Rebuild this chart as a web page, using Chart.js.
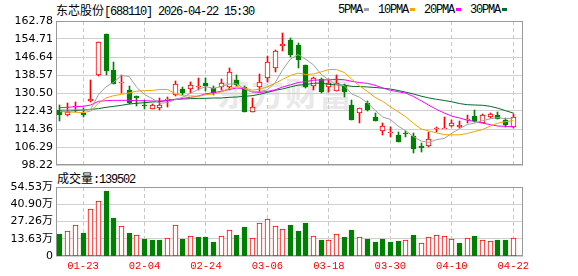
<!DOCTYPE html>
<html><head><meta charset="utf-8">
<script src="https://cdn.jsdelivr.net/npm/chart.js@4/dist/chart.umd.min.js"></script>
<style>
html,body{margin:0;padding:0;background:#fff}
body{width:578px;height:276px;overflow:hidden;position:relative}
.txt{position:absolute;white-space:nowrap;font-family:"Liberation Mono",monospace;font-size:12px;letter-spacing:-1.2px;line-height:12px;color:#000}
.cjk{font-family:"Noto Sans CJK SC",sans-serif;letter-spacing:0}
.sw{display:inline-block;width:5px;height:3px;vertical-align:top;margin:4px 9px 0 2px}
#wm{position:absolute;left:217px;top:70px;z-index:0;white-space:nowrap;font-family:"Noto Sans CJK SC",sans-serif;font-weight:700;font-size:33px;line-height:44px;color:#e9e9e9;letter-spacing:1px}
canvas{position:absolute;left:0;z-index:1}
</style></head><body>
<div id="wm"></div>
<div id="title" class="txt" style="left:56px;top:4px"></div>
<div id="legend" class="txt" style="left:338px;top:4px"></div>
<div id="vlabel" class="txt" style="left:57px;top:172px"></div>
<canvas id="c1" width="578" height="176" style="top:0"></canvas>
<canvas id="c2" width="578" height="110" style="top:166px"></canvas>
<script>
const stockName = '东芯股份';
const stockCode = '688110';
const stamp = '2026-04-22 15:30';
const lastVolume = '139502';
const watermark = '东方财富';

const dates = ['01-20','01-21','01-22','01-23','01-26','01-27','01-28','01-29','01-30','02-02','02-03','02-04','02-05','02-06','02-09','02-10','02-11','02-12','02-13','02-24','02-25','02-26','02-27','03-02','03-03','03-04','03-05','03-06','03-09','03-10','03-11','03-12','03-13','03-16','03-17','03-18','03-19','03-20','03-23','03-24','03-25','03-26','03-27','03-30','03-31','04-01','04-02','04-03','04-07','04-08','04-09','04-10','04-13','04-14','04-15','04-16','04-17','04-20','04-21','04-22'];
const tickDates = ['01-23','02-04','02-24','03-06','03-18','03-30','04-10','04-22'];
const priceTicks = [98.22,106.29,114.36,122.43,130.50,138.57,146.64,154.71,162.78];
const volTicks = [0,13.63,27.26,40.90,54.53];
const volTickLabels = ['0','13.63万','27.26万','40.90万','54.53万'];

const open = [122.88,120.49,124.07,121.68,126.76,138.42,156.95,140.81,134.83,131.84,129.15,125.27,123.33,123.92,127.36,129.45,132.29,132.14,133.04,134.98,132.89,133.04,133.04,136.18,133.34,122.13,133.34,137.07,141.56,151.57,154.26,152.02,143.05,133.64,136.78,133.04,131.40,133.64,124.97,121.68,125.87,119.89,113.46,112.72,111.52,112.50,111.37,106.74,106.74,114.21,114.66,115.85,115.11,118.24,120.19,117.20,119.89,120.49,118.39,115.40];
const high = [125.12,125.87,126.32,123.62,136.33,153.30,157.00,144.55,138.57,133.64,129.30,127.36,125.40,128.11,128.56,136.03,133.04,135.58,137.07,137.07,133.64,136.63,141.56,138.57,133.64,128.41,139.02,147.09,149.78,157.55,155.01,153.00,143.05,137.82,137.07,136.63,138.57,134.53,127.36,123.70,127.06,121.38,116.90,115.11,113.17,113.61,112.42,107.93,113.17,115.40,119.59,118.39,117.94,120.64,122.88,121.08,121.38,122.13,119.14,121.08];
const low = [118.09,120.30,122.13,119.59,126.60,138.30,138.57,134.40,130.65,125.50,124.67,123.18,123.20,122.88,124.37,129.30,129.60,130.65,131.84,131.40,129.60,131.84,131.84,133.64,122.00,122.00,131.10,135.58,140.00,149.48,146.50,141.56,132.59,131.84,130.65,131.10,131.30,128.85,118.30,116.90,122.58,118.00,111.67,110.92,108.38,110.92,103.74,104.19,106.44,112.87,114.60,115.40,114.66,116.90,117.65,116.90,119.14,118.84,115.11,114.66];
const close = [120.49,122.13,124.67,120.49,127.81,153.21,140.51,134.53,135.58,125.87,128.41,124.82,125.27,124.97,127.66,134.53,130.65,134.23,133.49,133.79,130.65,134.83,139.76,134.23,122.13,124.07,135.28,144.25,149.33,152.32,147.53,145.29,133.34,137.07,131.10,134.83,134.83,131.10,118.39,123.62,122.88,118.09,115.70,113.02,108.68,112.30,105.24,105.69,109.73,114.96,114.96,116.90,116.15,118.84,118.09,120.49,120.93,118.99,116.15,119.89];

const ma5 = [122.90,122.90,123.00,122.90,123.12,129.66,133.34,135.31,138.33,137.94,132.98,129.84,127.99,125.87,126.23,127.45,128.62,130.41,132.11,133.34,132.56,133.40,134.50,134.65,132.32,131.00,131.09,131.99,135.00,141.05,145.74,147.74,145.56,143.11,138.87,136.33,134.23,133.79,130.05,128.55,126.16,122.82,119.74,118.66,115.67,113.56,110.99,108.99,108.33,109.58,110.12,112.45,114.54,116.36,116.99,118.09,118.90,119.47,118.93,119.29];
const ma10 = [122.13,122.00,121.90,121.70,122.40,125.90,128.30,129.30,129.90,130.53,131.32,131.59,131.65,132.10,132.08,130.22,129.23,129.20,128.99,129.78,130.01,131.01,132.46,133.38,132.83,131.78,132.25,133.25,134.83,136.69,138.37,139.42,138.78,139.06,139.96,141.03,140.99,139.67,136.58,133.71,131.25,128.53,126.76,124.36,122.11,119.86,116.90,114.36,113.50,112.63,111.84,111.72,111.76,112.35,113.29,114.11,115.67,117.00,117.65,118.14];
const ma20 = [123.92,124.07,124.37,124.52,125.12,126.76,127.06,127.21,127.21,127.21,127.06,127.06,126.91,126.91,127.06,127.66,128.11,128.56,129.15,130.16,130.66,131.30,132.05,132.74,132.46,131.00,130.74,131.22,131.91,133.23,134.19,135.21,135.62,136.22,136.39,136.41,136.62,136.46,135.71,135.20,134.81,133.97,132.77,131.71,131.04,130.45,128.95,127.02,125.04,123.17,121.54,120.12,119.26,118.35,117.70,116.98,116.29,115.68,115.57,115.38];
const ma30 = [122.43,122.43,122.58,122.88,123.18,123.48,124.07,124.52,124.97,125.57,125.87,126.17,126.47,126.62,127.21,127.66,127.81,127.96,128.11,128.11,128.26,128.26,128.56,128.71,129.00,129.30,129.90,130.80,131.69,132.33,133.23,134.01,134.29,134.85,134.96,134.34,134.15,134.04,133.47,133.39,133.21,132.98,132.66,132.27,131.63,130.89,130.05,129.09,128.30,127.67,127.15,126.55,125.77,125.25,125.12,125.00,124.52,123.68,122.57,121.49];

const volume = [17.6,19.7,24.5,18.4,37.5,43.6,51.1,29.8,23.7,18.4,16.5,13.6,12.8,12.8,14.4,24.5,13.6,15.7,15.2,15.2,11.2,15.7,20.5,16.8,23.1,14.4,26.1,29.5,23.7,21.5,24.7,20.0,26.3,15.7,12.8,12.8,17.3,15.2,20.7,14.9,13.6,11.2,13.6,11.2,12.0,12.8,16.8,10.1,14.9,16.5,15.7,13.6,10.4,14.4,15.7,12.8,12.0,12.8,12.8,13.95];
const volumeUp = [0,1,1,0,1,1,0,0,1,0,1,0,0,0,1,1,0,1,0,0,0,1,1,0,0,1,1,1,1,1,0,0,0,1,0,1,1,0,0,1,0,0,0,0,0,1,0,1,1,1,1,1,0,1,0,1,1,0,0,1];

const maNames = ['5PMA','10PMA','20PMA','30PMA'];
const maColors = ['#a0a0a0','#f5a300','#ff00ff','#00692f'];
const maSeries = [ma5, ma10, ma20, ma30];

const RED = '#ff0000', GREEN = '#008000';

document.getElementById('wm').textContent = watermark;
document.getElementById('title').innerHTML = '<span class="cjk">'+stockName+'</span>['+stockCode+'] '+stamp;
document.getElementById('legend').innerHTML = maNames.map((n,i)=>n+'<span class="sw" style="background:'+maColors[i]+'"></span>').join('');
document.getElementById('vlabel').innerHTML = '<span class="cjk">成交量</span>:'+lastVolume;

const idx = dates.map((d,i)=>i);
const xMin = -0.514, xMax = 60.26;

const frame = {id:'frame', beforeDatasetsDraw(chart){
  const a = chart.chartArea, ctx = chart.ctx;
  ctx.save(); ctx.strokeStyle = '#999'; ctx.lineWidth = 1;
  ctx.strokeRect(a.left+0.5, a.top+0.5, a.right-a.left-1, a.bottom-a.top-1);
  ctx.restore();
}};
const snap = {id:'snap', afterDatasetsUpdate(chart){
  chart.data.datasets.forEach((ds,di)=>{
    const meta = chart.getDatasetMeta(di);
    if (meta.type !== 'bar') return;
    meta.data.forEach(el=>{
      el.x = Math.floor(el.x)+0.5;
      el.y = Math.round(el.y); el.base = Math.round(el.base);
      if (Math.abs(el.base-el.y) < 1) el.base = el.y+1;
    });
  });
}};

function xScale(showLabels){
  return {
    type:'linear', min:xMin, max:xMax, offset:false,
    afterBuildTicks: s => { s.ticks = tickDates.map(d=>({value:dates.indexOf(d)})); },
    afterFit: s => { s.height = showLabels ? 20 : 0; },
    ticks:{display:showLabels, autoSkip:false, maxRotation:0, padding:4, color:RED,
      font:{family:'Liberation Mono', size:10.5}, callback: v => dates[v]},
    grid:{color:'#c8c8c8', drawTicks:false, offset:false},
    border:{display:false, dash:[4,3]}
  };
}

new Chart(document.getElementById('c1'), {
  type:'bar',
  data:{datasets:[
    ...maSeries.map((s,k)=>({type:'line', label:maNames[k], data: idx.map(i=>({x:i,y:s[i]})),
      borderColor:maColors[k], borderWidth:1, pointRadius:0, tension:0, order:0})),
    {type:'bar', label:'body', data: idx.map(i=>({x:i,y:[open[i],close[i]]})),
      backgroundColor: idx.map(i=> close[i]>=open[i] ? '#ffffff' : GREEN),
      borderColor: idx.map(i=> close[i]>=open[i] ? RED : GREEN),
      borderWidth:1, borderSkipped:false, barThickness:5, grouped:false, order:1},
    {type:'bar', label:'wick', data: idx.map(i=>({x:i,y:[low[i],high[i]]})),
      backgroundColor: idx.map(i=> close[i]>=open[i] ? RED : GREEN),
      borderWidth:0, barThickness:1, grouped:false, order:2}
  ]},
  options:{
    responsive:false, animation:false, events:[],
    layout:{padding:{left:0,right:55,top:21,bottom:11}},
    plugins:{legend:{display:false}, tooltip:{enabled:false}},
    scales:{
      x: xScale(false),
      y:{min:priceTicks[0], max:priceTicks[priceTicks.length-1],
        afterFit: s => { s.width = 56; },
        afterBuildTicks: s => { s.ticks = priceTicks.map(v=>({value:v})); },
        ticks:{callback: v => v.toFixed(2), padding:3, color:'#000', font:{family:'DejaVu Sans', size:11}},
        grid:{color:'#d0d0d0', drawTicks:false}, border:{display:false}}
    }
  },
  plugins:[frame, snap]
});

new Chart(document.getElementById('c2'), {
  type:'bar',
  data:{datasets:[
    {label:'成交量', data: idx.map(i=>({x:i,y:volume[i]})),
      backgroundColor: idx.map(i=> volumeUp[i] ? '#ffffff' : GREEN),
      borderColor: idx.map(i=> volumeUp[i] ? RED : GREEN),
      borderWidth:1, borderSkipped:false, barThickness:5, grouped:false}
  ]},
  options:{
    responsive:false, animation:false, events:[],
    layout:{padding:{left:0,right:55,top:21,bottom:0}},
    plugins:{legend:{display:false}, tooltip:{enabled:false}},
    scales:{
      x: xScale(true),
      y:{min:0, max:volTicks[volTicks.length-1],
        afterFit: s => { s.width = 56; },
        afterBuildTicks: s => { s.ticks = volTicks.map(v=>({value:v})); },
        ticks:{callback: v => volTickLabels[volTicks.indexOf(v)], padding:3, color:'#000',
          font:{family:'DejaVu Sans, Noto Sans CJK SC', size:11}},
        grid:{color:'#d0d0d0', drawTicks:false}, border:{display:false}}
    }
  },
  plugins:[frame, snap]
});
</script></body></html>
